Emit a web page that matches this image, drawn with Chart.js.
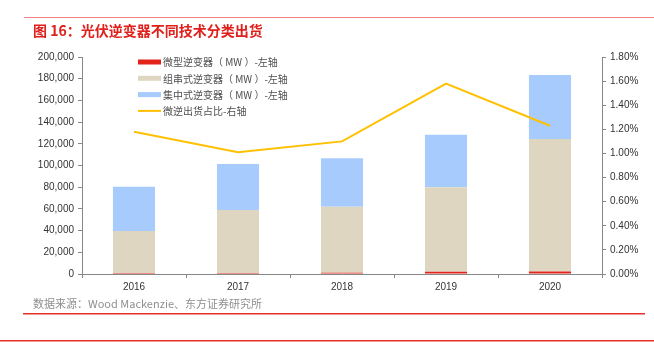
<!DOCTYPE html>
<html>
<head>
<meta charset="utf-8">
<script src="https://cdn.jsdelivr.net/npm/chart.js@4"></script>
<style>
  html, body { margin: 0; padding: 0; background: #fff; }
  #wrap { width: 654px; height: 342px; position: relative; }
</style>
</head>
<body>
<div id="wrap"><canvas id="myChart" width="654" height="342"></canvas></div>
<script>
let years = ['2016', '2017', '2018', '2019', '2020']
let microMW = [950, 1020, 1170, 2030, 2250]
let stringMW = [38700, 58000, 60900, 77900, 122200]
let centralMW = [40800, 42400, 44600, 48500, 59000]
let microShare = [1.18, 1.01, 1.10, 1.58, 1.23]

let seriesNames = ['微型逆变器（ MW ）-左轴', '组串式逆变器（ MW ）-左轴', '集中式逆变器（ MW ）-左轴', '微逆出货占比-右轴']
let colors = ['#E2231A', '#DED6C0', '#A7CBFD', '#FFC000']

let cjk = '"Noto Sans CJK SC", "Noto Sans", sans-serif'
let latin = '"Liberation Sans", Arial, sans-serif'

// title, source, red rules and legend
let decor = {
    id: 'decor',
    beforeDraw(chart) {
        let c = chart.ctx
        c.save()
        c.fillStyle = '#fff'
        c.fillRect(0, 0, chart.width, chart.height)
        c.restore()
    },
    afterDraw(chart) {
        let c = chart.ctx
        c.save()
        c.fillStyle = 'rgb(240,130,130)'
        c.fillRect(24, 17, 630, 1)
        c.font = 'bold 14px ' + cjk
        c.fillStyle = '#E0201B'
        c.textBaseline = 'middle'
        c.fillText('图 16：光伏逆变器不同技术分类出货', 33, 31)

        c.font = '11px ' + cjk
        c.fillStyle = '#8f8f8f'
        c.fillText('数据来源：Wood Mackenzie、东方证券研究所', 33, 304)
        c.fillStyle = '#E8302A'
        c.fillRect(23, 313, 622, 1.5)
        c.fillRect(0, 340, 654, 1.5)

        // legend
        c.font = '10px ' + cjk
        chart.data.datasets.forEach((ds, i) => {
            let y = 62 + i * 16.3
            c.fillStyle = ds.borderColor
            if (ds.type === 'line') {
                c.fillRect(138, y - 1, 23, 2)
            } else {
                c.fillRect(138, y - 2.5, 23, 5)
            }
            c.fillStyle = '#505050'
            c.fillText(ds.label, 163, y + 0.5)
        })
        c.restore()
    }
}

let ctx = document.getElementById('myChart').getContext('2d')
let barCommon = {
    type: 'bar',
    stack: 'mw',
    yAxisID: 'y',
    order: 1,
    categoryPercentage: 1,
    barPercentage: 0.405,
    borderWidth: 0
}

let myChart = new Chart(ctx, {
    data: {
        labels: years,
        datasets: [
            Object.assign({ label: seriesNames[0], data: microMW, backgroundColor: colors[0], borderColor: colors[0] }, barCommon),
            Object.assign({ label: seriesNames[1], data: stringMW, backgroundColor: colors[1], borderColor: colors[1] }, barCommon),
            Object.assign({ label: seriesNames[2], data: centralMW, backgroundColor: colors[2], borderColor: colors[2] }, barCommon),
            {
                type: 'line',
                label: seriesNames[3],
                data: microShare,
                yAxisID: 'y1',
                order: 0,
                borderColor: colors[3],
                backgroundColor: colors[3],
                borderWidth: 2,
                pointRadius: 0,
                tension: 0,
                fill: false
            }
        ]
    },
    options: {
        responsive: false,
        animation: false,
        layout: {
            padding: { left: 0, right: 0, top: 57, bottom: 0 }
        },
        plugins: {
            legend: { display: false },
            tooltip: { enabled: false }
        },
        scales: {
            x: {
                stacked: true,
                afterFit: (s) => { s.height = 68 },
                grid: { display: true, drawOnChartArea: false, offset: true, tickLength: 4, color: '#888' },
                border: { display: true, color: '#888' },
                ticks: { color: '#333', font: { family: latin, size: 10 }, padding: 3 }
            },
            y: {
                stacked: true,
                position: 'left',
                min: 0,
                max: 200000,
                afterFit: (s) => { s.width = 82 },
                grid: { display: true, drawOnChartArea: false, tickLength: 4, color: '#888' },
                border: { display: true, color: '#888' },
                ticks: {
                    stepSize: 20000,
                    color: '#333',
                    padding: 4,
                    font: { family: latin, size: 10 },
                    callback: (v) => v.toLocaleString('en-US')
                }
            },
            y1: {
                position: 'right',
                min: 0,
                max: 1.8,
                afterFit: (s) => { s.width = 52 },
                grid: { display: true, drawOnChartArea: false, tickLength: 4, color: '#888' },
                border: { display: true, color: '#888' },
                ticks: {
                    stepSize: 0.2,
                    color: '#333',
                    padding: 4,
                    font: { family: latin, size: 10 },
                    callback: (v) => v.toFixed(2) + '%'
                }
            }
        }
    },
    plugins: [decor]
})
</script>
</body>
</html>
